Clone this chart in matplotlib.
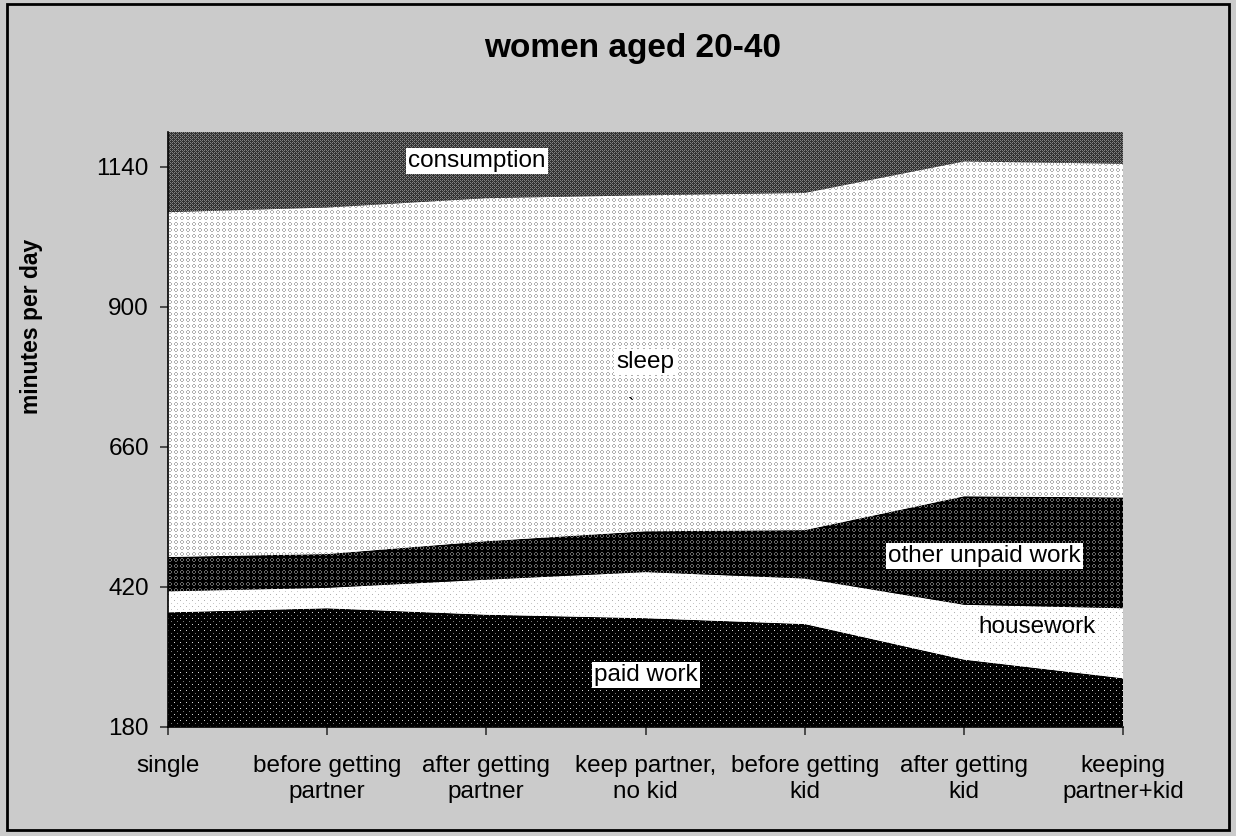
import numpy as np
import matplotlib
matplotlib.use("Agg")
import matplotlib.pyplot as plt
from matplotlib.patches import Rectangle

# ---------------- data ----------------
categories = ["single", "before getting\npartner", "after getting\npartner",
              "keep partner,\nno kid", "before getting\nkid", "after getting\nkid",
              "keeping\npartner+kid"]
paid_work = [376, 383, 372, 366, 356, 295, 263]
housework = [36, 35, 60, 79, 78, 94, 120]
other_unpaid = [59, 58, 66, 70, 83, 186, 190]
sleep = [591, 594, 588, 576, 578, 574, 572]
consumption = [378, 370, 354, 349, 345, 291, 295]
y_ticks = [180, 420, 660, 900, 1140]
series_names = ["paid work", "housework", "other unpaid work", "sleep", "consumption"]

plt.rcParams["font.family"] = ["Liberation Sans", "DejaVu Sans"]

W, H = 1236, 836
fig = plt.figure(figsize=(W / 100, H / 100), dpi=100, facecolor="#cbcbcb")
ax_l, ax_r, ax_t, ax_b = 167.7, 1123.3, 131.7, 726.7
ax = fig.add_axes([ax_l / W, 1 - ax_b / H, (ax_r - ax_l) / W, (ax_b - ax_t) / H])
ax.set_facecolor("white")

ymin, ymax = 180, 1200
npx_w, npx_h = int(round(ax_r - ax_l)), int(round(ax_b - ax_t))


def ring(period, bg, fg):
    t = np.full((period, period), bg, dtype=float)
    pts = [(0, 1), (0, 2), (1, 0), (1, 3), (2, 0), (2, 3), (3, 1), (3, 2)]
    for r, c in pts:
        t[r, c] = fg
    return t


def dots(period, bg, fg1, fg2):
    t = np.full((period, period), bg, dtype=float)
    t[0, 0] = fg1
    t[period // 2, period // 2] = fg2
    return t


def checker(bg, fg):
    t = np.full((4, 4), bg, dtype=float)
    t[0, 0] = fg; t[0, 2] = fg; t[2, 0] = fg; t[2, 2] = fg
    t[1, 1] = fg * 0.8 + bg * 0.2; t[3, 3] = fg * 0.8 + bg * 0.2
    return t


tiles = [
    dots(6, 0, 215, 120),          # paid work
    dots(6, 255, 175, 200),        # housework
    ring(6, 0, 105),               # other unpaid
    ring(6, 255, 175),             # sleep
    checker(50, 130),              # consumption
]
mean_cols = ["#151515", "#f2f2f2", "#2c2c2c", "#dcdcdc", "#555555"]

x = np.arange(len(categories))
series = [paid_work, housework, other_unpaid, sleep, consumption]
bottom = np.zeros(len(categories))
for vals, tile, mc in zip(series, tiles, mean_cols):
    vals = np.asarray(vals, dtype=float)
    top = bottom + vals
    poly = ax.fill_between(x, bottom, top, facecolor=mc, edgecolor="none", linewidth=0, zorder=1)
    reps = (npx_h // tile.shape[0] + 2, npx_w // tile.shape[1] + 2)
    img = np.tile(tile, reps)[:npx_h, :npx_w] / 255.0
    im = ax.imshow(img, cmap="gray", vmin=0, vmax=1, extent=(0, 6, ymin, ymax),
                   origin="upper", interpolation="nearest", aspect="auto", zorder=2)
    im.set_clip_path(poly.get_paths()[0], transform=ax.transData)
    bottom = top

ax.set_xlim(0, len(categories) - 1)
ax.set_ylim(ymin, ymax)
ax.set_aspect("auto")

ax.set_yticks(y_ticks)
ax.set_yticklabels([str(v) for v in y_ticks])
ax.set_xticks(x)
ax.set_xticklabels(categories, linespacing=1.23)
ax.tick_params(axis="both", labelsize=17.5, direction="out", length=5.5, width=1.2, color="#333333")
ax.tick_params(axis="y", pad=8)
ax.tick_params(axis="x", pad=15)
for s in ["top", "right"]:
    ax.spines[s].set_visible(False)
for s in ["left", "bottom"]:
    ax.spines[s].set_linewidth(1.2)
    ax.spines[s].set_zorder(5)

ax.set_ylabel("minutes per day", fontsize=16.5, fontweight="bold")
ax.yaxis.set_label_coords(-0.131, 0.673)

fig.text(633 / W, 1 - 49 / H, "women aged 20-40", ha="center", va="center",
         fontsize=24, fontweight="bold")

box = dict(facecolor="white", edgecolor="none", pad=1.5)
ax.text(1.94, 1150, "consumption", ha="center", va="center", fontsize=17.5, bbox=box, zorder=6)
ax.text(3.0, 805, "sleep", ha="center", va="center", fontsize=17.5, bbox=box, zorder=6)
ax.text(2.91, 729, "`", ha="center", va="center", fontsize=14, zorder=6)
ax.text(5.13, 473, "other unpaid work", ha="center", va="center", fontsize=17.5, bbox=box, zorder=6)
ax.text(5.46, 351, "housework", ha="center", va="center", fontsize=17.5, zorder=6)
ax.text(3.0, 269, "paid work", ha="center", va="center", fontsize=17.5, bbox=box, zorder=6)

fig.add_artist(Rectangle((7 / W, 1 - 830 / H), (1229 - 7) / W, (830 - 4) / H,
                         transform=fig.transFigure, fill=False, edgecolor="black", linewidth=2))

fig.savefig("out.png", dpi=100, facecolor=fig.get_facecolor())
